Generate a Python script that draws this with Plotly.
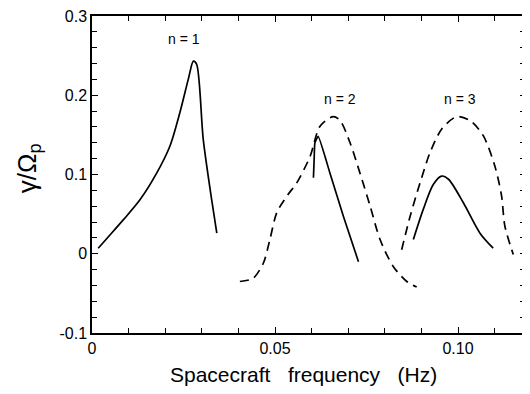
import plotly.graph_objects as go

# n=1 solid
n1_x = [0.0017, 0.0040, 0.0086, 0.0131, 0.0177, 0.0213, 0.0240, 0.0263, 0.0277, 0.0286, 0.0304, 0.0327, 0.0341]
n1_y = [0.007, 0.019, 0.043, 0.068, 0.102, 0.136, 0.178, 0.220, 0.243, 0.239, 0.144, 0.068, 0.026]

# n=2 dashed
n2d_x = [0.0404, 0.0440, 0.0468, 0.0486, 0.0505, 0.0536, 0.0559, 0.0596, 0.0623, 0.0659, 0.0678, 0.0705, 0.0732, 0.0760, 0.0787, 0.0823, 0.0860, 0.0887]
n2d_y = [-0.035, -0.031, -0.012, 0.018, 0.052, 0.075, 0.089, 0.123, 0.161, 0.173, 0.168, 0.140, 0.102, 0.060, 0.018, -0.016, -0.035, -0.042]

# n=2 solid
n2s_x = [0.0605, 0.0607, 0.0609, 0.0618, 0.0650, 0.0687, 0.0728]
n2s_y = [0.096, 0.120, 0.140, 0.148, 0.102, 0.047, -0.010]

# n=3 dashed
n3d_x = [0.0846, 0.0869, 0.0896, 0.0923, 0.0955, 0.0996, 0.1033, 0.1069, 0.1101, 0.1119, 0.1128, 0.1151]
n3d_y = [0.005, 0.047, 0.089, 0.127, 0.157, 0.173, 0.168, 0.149, 0.110, 0.073, 0.035, -0.001]

# n=3 solid
n3s_x = [0.0878, 0.0905, 0.0932, 0.0955, 0.0974, 0.1015, 0.1060, 0.1096]
n3s_y = [0.018, 0.056, 0.087, 0.098, 0.094, 0.064, 0.026, 0.007]

labels = ["n = 1", "n = 2", "n = 3"]
label_x = [0.0252, 0.0678, 0.1005]
label_y = [0.271, 0.195, 0.195]

x_tickvals = [0, 0.05, 0.10]
x_ticktext = ["0", "0.05", "0.10"]
y_tickvals = [-0.1, 0, 0.1, 0.2, 0.3]
y_ticktext = ["-0.1", "0", "0.1", "0.2", "0.3"]

FONT = "Liberation Sans"
black = "#000000"

fig = go.Figure()
solid = dict(color=black, width=1.7)
dashed = dict(color=black, width=1.7, dash="9px,6px")

fig.add_trace(go.Scatter(x=n1_x, y=n1_y, mode="lines", line=dict(**solid, shape="spline", smoothing=0.8)))
fig.add_trace(go.Scatter(x=n2d_x, y=n2d_y, mode="lines", line=dict(**dashed, shape="spline", smoothing=0.8)))
fig.add_trace(go.Scatter(x=n2s_x, y=n2s_y, mode="lines", line=dict(**solid, shape="spline", smoothing=0.4)))
fig.add_trace(go.Scatter(x=n3d_x, y=n3d_y, mode="lines", line=dict(**dashed, shape="spline", smoothing=0.8)))
fig.add_trace(go.Scatter(x=n3s_x, y=n3s_y, mode="lines", line=dict(**solid, shape="spline", smoothing=0.8)))
# trace tying the right-hand tick axis to the plot
fig.add_trace(go.Scatter(x=[n1_x[0]], y=[n1_y[0]], yaxis="y2", mode="markers",
                         marker=dict(opacity=0), hoverinfo="skip", showlegend=False))

for t, lx, ly in zip(labels, label_x, label_y):
    fig.add_annotation(x=lx, y=ly, text=t, showarrow=False, font=dict(family=FONT, size=14, color=black))

fig.update_layout(
    width=530, height=394,
    margin=dict(l=84, r=13, t=8, b=69, autoexpand=False),
    plot_bgcolor="white", paper_bgcolor="white",
    showlegend=False,
    font=dict(family=FONT, size=16, color=black),
    xaxis=dict(range=[0, 0.1183], showgrid=False, zeroline=False,
               showline=True, linecolor=black, linewidth=1.5, mirror="ticks",
               ticks="inside", ticklen=6, tickcolor=black, tickwidth=1.2,
               tickvals=x_tickvals, ticktext=x_ticktext, tickfont=dict(size=16),
               minor=dict(ticks="inside", ticklen=5, tickcolor=black, tickwidth=1.2, dtick=0.01, tick0=0, showgrid=False)),
    yaxis=dict(range=[-0.1, 0.3], showgrid=False, zeroline=False,
               showline=True, linecolor=black, linewidth=1.5, mirror=False,
               ticks="inside", ticklen=6, tickcolor=black, tickwidth=1.2,
               tickvals=y_tickvals, ticktext=y_ticktext, ticklabeloverflow="allow", tickfont=dict(size=16),
               minor=dict(ticks="inside", ticklen=5, tickcolor=black, tickwidth=1.2, dtick=0.02, tick0=0, showgrid=False)),
    yaxis2=dict(range=[-0.1, 0.3], overlaying="y", side="right", anchor="x",
                showgrid=False, zeroline=False, showline=False,
                ticks="inside", ticklen=5, tickcolor=black, tickwidth=1.3,
                dtick=0.02, tick0=0, showticklabels=False),
)

fig.add_annotation(x=0.5, y=0, xref="paper", yref="paper", yshift=-28, xshift=-5,
                   text="Spacecraft   frequency   (Hz)",
                   showarrow=False, yanchor="top", font=dict(family=FONT, size=21, color=black))
fig.add_annotation(x=0, y=0.52, xref="paper", yref="paper", xshift=-64, xanchor="center", yanchor="middle",
                   text="γ/Ω<sub>p</sub>",
                   showarrow=False, textangle=-90, font=dict(family=FONT, size=26, color=black))

fig.write_html("out.html")
